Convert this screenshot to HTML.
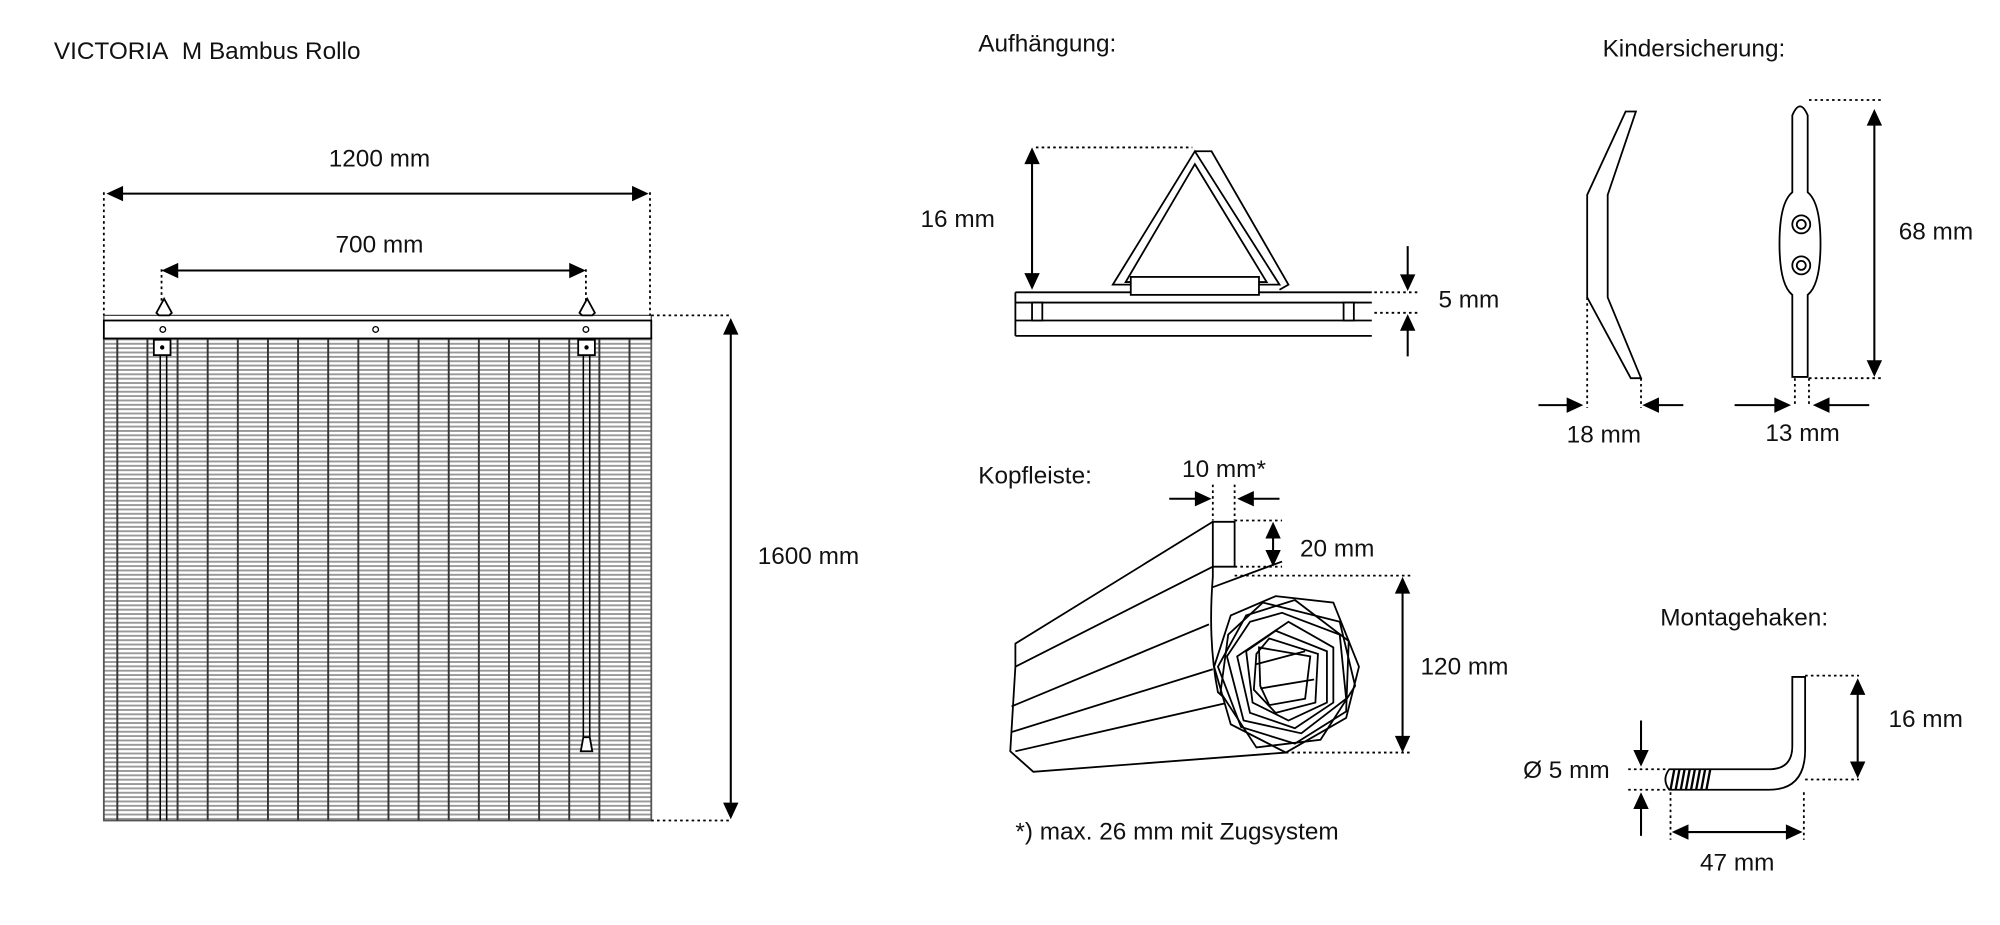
<!DOCTYPE html>
<html><head><meta charset="utf-8"><style>
html,body{margin:0;padding:0;background:#fff;}
svg{display:block}
text{font-family:"Liberation Sans",sans-serif;fill:#111;font-size:19px}
</style></head><body>
<svg width="2000" height="925" viewBox="0 0 1560 721.5" preserveAspectRatio="none" xmlns="http://www.w3.org/2000/svg">
<defs>
<pattern id="sl" x="0" y="264" width="10" height="3.4" patternUnits="userSpaceOnUse"><rect width="10" height="3.4" fill="#fff"/><rect y="0" width="10" height="1.5" fill="#999"/></pattern>
</defs>
<g fill="none" stroke="#000" stroke-width="1.4">
<text x="42" y="46" stroke="none">VICTORIA&#160; M Bambus Rollo</text>
<!-- blind -->
<rect x="81" y="264" width="427" height="376" fill="url(#sl)" stroke="#555"/>
<g stroke="#333" stroke-width="1.5">
<path d="M91.5 264V640M115 264V640M138.5 264V640M162 264V640M185.5 264V640M209 264V640M232.5 264V640M256 264V640M279.5 264V640M303 264V640M326.5 264V640M350 264V640M373.5 264V640M397 264V640M420.5 264V640M444 264V640M467.5 264V640M491 264V640"/>
</g>
<path d="M125 276V640M130 276V640M455 276V580M460 276V580" stroke-width="1.2"/>
<path d="M81 246H508V250H81z" fill="#fff" stroke="#444" stroke-width="1"/>
<rect x="81" y="250" width="427" height="14" fill="#fff"/>
<circle cx="127" cy="257" r="2.2" stroke-width="1"/><circle cx="293" cy="257" r="2.2" stroke-width="1"/><circle cx="457" cy="257" r="2.2" stroke-width="1"/>
<rect x="120" y="265" width="13" height="12" fill="#fff"/><rect x="451" y="265" width="13" height="12" fill="#fff"/>
<circle cx="126.5" cy="271" r="1" fill="#000"/><circle cx="457.5" cy="271" r="1" fill="#000"/>
<path d="M122 244L128 233L134 244L132 246H124z M452 244L458 233L464 244L462 246H454z" fill="#fff"/>
<path d="M455 575L460 575L462 586L453 586z" fill="#fff"/>
<!-- dims blind -->
<path d="M81 150V246M507 150V246M126 210V236M457 210V236M508 246H570M508 640H570" stroke-dasharray="2 2.5"/>
<path d="M90 151H498M135 211H448M570 256V630" stroke-width="1.6"/>
<text x="296" y="130" text-anchor="middle" stroke="none">1200 mm</text>
<text x="296" y="197" text-anchor="middle" stroke="none">700 mm</text>
<text x="591" y="440" stroke="none">1600 mm</text>
<!-- Aufhaengung -->
<text x="763" y="40" stroke="none">Aufhängung:</text>
<text x="718" y="177" stroke="none">16 mm</text>
<text x="1122" y="240" stroke="none">5 mm</text>
<path d="M808 115H930M1072 228H1108M1072 244H1108" stroke-dasharray="2 2.5"/>
<path d="M805 125V216M1098 192V216M1098 278V257" stroke-width="1.6"/>
<path d="M792 228H1070M792 236H1070M792 250H1070M792 262H1070M792 228V262"/>
<rect x="805" y="236" width="8" height="14" fill="#fff"/><rect x="1048" y="236" width="8" height="14" fill="#fff"/>
<path d="M868 222L932 118L998 222Z M878 220L932 128L988 220Z M932 118L945 118L1005 222L998 226" fill="none"/>
<rect x="882" y="216" width="100" height="14" fill="#fff"/>
<!-- Kindersicherung -->
<text x="1250" y="44" stroke="none">Kindersicherung:</text>
<path d="M1268 87H1276L1254 152V232L1280 295H1272L1238 232V152Z" fill="#fff"/>
<path d="M1238 232V318M1280 295V318M1400 295V316M1411 295V316M1411 78H1468M1411 295H1468" stroke-dasharray="2 2.5"/>
<path d="M1200 316H1225M1313 316H1291M1353 316H1387M1458 316H1424" stroke-width="1.6"/>
<path d="M1462 94V285" stroke-width="1.6"/>
<path d="M1398 90Q1404 76 1410 90V150Q1420 158 1420 190Q1420 222 1410 230V294H1398V230Q1388 222 1388 190Q1388 158 1398 150Z" fill="#fff"/>
<circle cx="1405" cy="175" r="7"/><circle cx="1405" cy="175" r="3.5"/>
<circle cx="1405" cy="207" r="7"/><circle cx="1405" cy="207" r="3.5"/>
<text x="1222" y="345" stroke="none">18 mm</text>
<text x="1377" y="344" stroke="none">13 mm</text>
<text x="1481" y="187" stroke="none">68 mm</text>
<!-- Kopfleiste -->
<text x="763" y="377" stroke="none">Kopfleiste:</text>
<text x="922" y="372" stroke="none">10 mm*</text>
<text x="1014" y="434" stroke="none">20 mm</text>
<text x="1108" y="526" stroke="none">120 mm</text>
<text x="792" y="655" stroke="none">*) max. 26 mm mit Zugsystem</text>
<path d="M946 378V406M963 378V406M963 406H1000M963 442H1000M963 449H1100M1003 587H1100" stroke-dasharray="2 2.5"/>
<path d="M912 389H936M998 389H974" stroke-width="1.6"/>
<path d="M993 416V432" stroke-width="1.6"/>
<path d="M1094 459V577" stroke-width="1.6"/>
<path d="M946 407L792 502V520L788 586L806 602L1003 587" fill="#fff"/>
<path d="M946 407H963V442H946Z" fill="#fff"/>
<path d="M946 442L946 450Q942 500 950 540L1003 587M792 520L946 442M789 551L943 487M789 571L946 522M792 586L958 548"/>
<path d="M946 458L1000 438"/>
<path d="M995 465L1040 470L1060 520L1050 560L1003 587L960 565L947 520L960 480Z" fill="#fff"/>
<path d="M985 470L1045 485L1057 535L1030 577L980 583L952 540L958 495Z"/>
<path d="M1010 468L1052 500L1050 555L1010 580L968 567L950 520L972 480Z"/>
<path d="M1000 478L1045 495L1050 545L1015 572L970 562L957 512L975 485Z"/>
<path d="M1005 485L1040 505L1040 548L1010 568L975 556L965 512Z"/>
<path d="M995 492L1035 508L1035 548L1005 562L977 548L972 508Z"/>
<path d="M990 498L1028 510L1026 548L995 556L978 538L980 510Z"/>
<path d="M982 505L1022 512L1018 545L990 550L983 535Z"/>
<path d="M980 518L1018 508M983 537L1025 530"/>
<!-- Montagehaken -->
<text x="1295" y="488" stroke="none">Montagehaken:</text>
<text x="1473" y="567" stroke="none">16 mm</text>
<text x="1188" y="607" stroke="none">Ø 5 mm</text>
<text x="1326" y="679" stroke="none">47 mm</text>
<path d="M1302 600H1380Q1398 600 1398 582V528H1408V585Q1408 616 1380 616H1302Q1296 608 1302 600Z" fill="#fff"/>
<path d="M1306 600L1303 616M1310 600L1307 616M1314 600L1311 616M1318 600L1315 616M1322 600L1319 616M1326 600L1323 616M1330 600L1327 616M1334 600L1331 616" stroke-width="1.8"/>
<path d="M1408 527H1450M1408 608H1450M1270 600H1300M1270 616H1300M1303 618V655M1407 618V655" stroke-dasharray="2 2.5"/>
<path d="M1449 538V598" stroke-width="1.6"/>
<path d="M1280 562V590M1280 652V626" stroke-width="1.6"/>
<path d="M1313 649H1397" stroke-width="1.6"/>
</g>
<g fill="#000">
<!-- horizontal arrows: right-pointing / left-pointing -->
<polygon points="83,151 96,145 96,157"/><polygon points="506,151 493,145 493,157"/>
<polygon points="126,211 139,205 139,217"/><polygon points="457,211 444,205 444,217"/>
<polygon points="1235,316 1222,310 1222,322"/><polygon points="1281,316 1294,310 1294,322"/>
<polygon points="1397,316 1384,310 1384,322"/><polygon points="1414,316 1427,310 1427,322"/>
<polygon points="945,389 932,383 932,395"/><polygon points="965,389 978,383 978,395"/>
<polygon points="1304,649 1317,643 1317,655"/><polygon points="1406,649 1393,643 1393,655"/>
<!-- vertical arrows -->
<polygon points="570,248 564,261 576,261"/><polygon points="570,639 564,626 576,626"/>
<polygon points="805,115 799,128 811,128"/><polygon points="805,226 799,213 811,213"/>
<polygon points="1098,227 1092,214 1104,214"/><polygon points="1098,245 1092,258 1104,258"/>
<polygon points="1462,85 1456,98 1468,98"/><polygon points="1462,294 1456,281 1468,281"/>
<polygon points="993,407 987,420 999,420"/><polygon points="993,442 987,429 999,429"/>
<polygon points="1094,450 1088,463 1100,463"/><polygon points="1094,587 1088,574 1100,574"/>
<polygon points="1449,529 1443,542 1455,542"/><polygon points="1449,607 1443,594 1455,594"/>
<polygon points="1280,598 1274,585 1286,585"/><polygon points="1280,618 1274,631 1286,631"/>
</g>
</svg>
</body></html>
